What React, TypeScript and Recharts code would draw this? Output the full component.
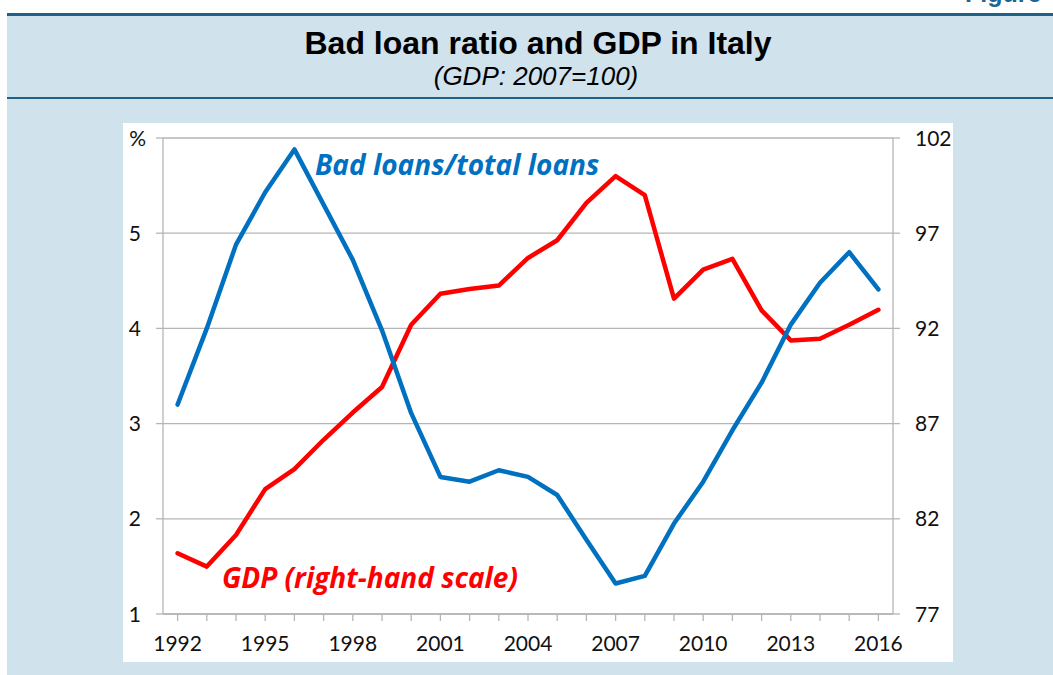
import React from 'react';
import { LineChart, Line, XAxis, YAxis, CartesianGrid } from 'recharts';

const years = [1992, 1993, 1994, 1995, 1996, 1997, 1998, 1999, 2000, 2001, 2002, 2003, 2004, 2005, 2006, 2007, 2008, 2009, 2010, 2011, 2012, 2013, 2014, 2015, 2016];
const badLoans = [3.2, 4.0, 4.88, 5.43, 5.88, 5.3, 4.72, 3.98, 3.11, 2.44, 2.39, 2.51, 2.44, 2.25, 1.78, 1.32, 1.4, 1.95, 2.39, 2.93, 3.43, 4.04, 4.48, 4.8, 4.41];
const gdp = [80.19, 79.49, 81.15, 83.56, 84.61, 86.15, 87.58, 88.92, 92.19, 93.82, 94.07, 94.25, 95.7, 96.63, 98.59, 100.0, 99.0, 93.56, 95.09, 95.65, 92.95, 91.37, 91.46, 92.19, 92.98];
const leftTicks = [1, 2, 3, 4, 5, 6];
const rightTicks = [77, 82, 87, 92, 97, 102];
const labeledYears = [1992, 1995, 1998, 2001, 2004, 2007, 2010, 2013, 2016];

const data = years.map((y, i) => ({ year: y, bad: badLoans[i], gdp: gdp[i] }));

const GRID = '#b5b5b5';
const TICK_FONT = 'Lato, "Open Sans", sans-serif';
const LABEL_FONT = '"Open Sans", Lato, sans-serif';

const XTick = (props: any) => {
  const { x, y, payload } = props;
  if (!labeledYears.includes(payload.value)) return <g />;
  return (
    <text x={x} y={y} dy="0.71em" textAnchor="middle" fontFamily={TICK_FONT} fontSize={21} fill="#111">
      {payload.value}
    </text>
  );
};

const LeftTick = (props: any) => {
  const { x, y, payload } = props;
  const label = payload.value === 6 ? '%' : String(payload.value);
  return (
    <text x={payload.value === 6 ? x + 5 : x} y={y} dy="0.36em" textAnchor="end" fontFamily={TICK_FONT} fontSize={21} fill="#111">
      {label}
    </text>
  );
};

const RightTick = (props: any) => {
  const { x, y, payload } = props;
  return (
    <text x={x} y={y} dy="0.36em" textAnchor="start" fontFamily={TICK_FONT} fontSize={21} fill="#111">
      {payload.value}
    </text>
  );
};

export default function App() {
  return (
    <div style={{ position: 'absolute', left: 0, top: 0, width: 1053, height: 675, overflow: 'hidden', background: '#ffffff' }}>
      <div style={{ position: 'absolute', left: 7, top: 15, width: 1046, height: 660, background: '#d0e2ec' }} />
      <div style={{ position: 'absolute', left: 7, top: 13, width: 1046, height: 3, background: '#1f6189' }} />
      <div style={{ position: 'absolute', left: 7, top: 97, width: 1046, height: 2, background: '#1f6189' }} />
      <svg style={{ position: 'absolute', left: 0, top: 0 }} width={1053} height={110}>
        <text x={965} y={2} fontFamily='"Liberation Sans", Arial, sans-serif' fontWeight="bold" fontSize={25} fill="#1d6690">Figure</text>
        <text x={538} y={54} textAnchor="middle" fontFamily='"Liberation Sans", Arial, sans-serif' fontWeight="bold" fontSize={32} fill="#000">Bad loan ratio and GDP in Italy</text>
        <text x={536} y={85} textAnchor="middle" fontFamily='"Liberation Sans", Arial, sans-serif' fontStyle="italic" fontSize={26} fill="#000">(GDP: 2007=100)</text>
      </svg>
      <div style={{ position: 'absolute', left: 123, top: 123, width: 830, height: 539, background: '#ffffff' }}>
        <LineChart width={830} height={539} data={data} margin={{ top: 15, right: 0, bottom: 0, left: 0 }}>
          <CartesianGrid yAxisId="left" vertical={false} stroke={GRID} strokeWidth={1.3} />
          <XAxis
            dataKey="year"
            type="number"
            domain={[1991.5, 2016.5]}
            ticks={years}
            interval={0}
            height={48}
            tickSize={7}
            tickMargin={15}
            tick={<XTick />}
            axisLine={{ stroke: GRID, strokeWidth: 1.3 }}
            tickLine={{ stroke: GRID, strokeWidth: 1.3 }}
          />
          <YAxis
            yAxisId="left"
            domain={[1, 6]}
            ticks={leftTicks}
            interval={0}
            width={40}
            tickSize={7}
            tickMargin={15}
            tick={<LeftTick />}
            axisLine={{ stroke: GRID, strokeWidth: 1.3 }}
            tickLine={{ stroke: GRID, strokeWidth: 1.3 }}
          />
          <YAxis
            yAxisId="right"
            orientation="right"
            domain={[77, 102]}
            ticks={rightTicks}
            interval={0}
            width={60}
            tickSize={7}
            tickMargin={15}
            tick={<RightTick />}
            axisLine={{ stroke: GRID, strokeWidth: 1.3 }}
            tickLine={{ stroke: GRID, strokeWidth: 1.3 }}
          />
          <Line yAxisId="right" dataKey="gdp" stroke="#ff0000" strokeWidth={4.5} dot={false} isAnimationActive={false} strokeLinejoin="round" strokeLinecap="round" />
          <Line yAxisId="left" dataKey="bad" stroke="#0070c0" strokeWidth={4.5} dot={false} isAnimationActive={false} strokeLinejoin="round" strokeLinecap="round" />
        </LineChart>
      </div>
      <svg style={{ position: 'absolute', left: 0, top: 0, pointerEvents: 'none' }} width={1053} height={675}>
        <text x={315} y={175} fontFamily={LABEL_FONT} fontWeight="bold" fontStyle="italic" fontSize={28} fill="#0070c0">Bad loans/total loans</text>
        <text x={222} y={588} fontFamily={LABEL_FONT} fontWeight="bold" fontStyle="italic" fontSize={28} fill="#ff0000">GDP (right-hand scale)</text>
      </svg>
    </div>
  );
}
